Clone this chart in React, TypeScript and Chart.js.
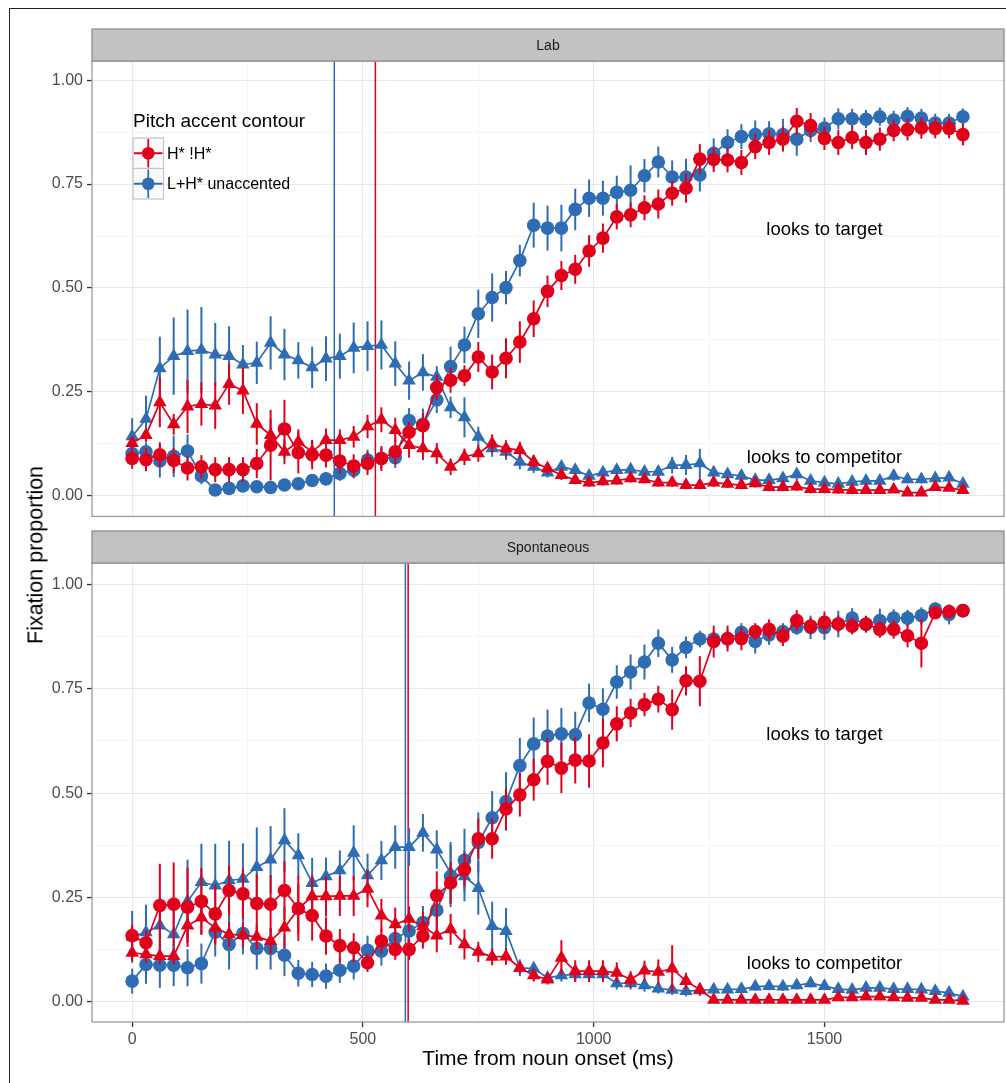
import React, { useEffect, useRef } from 'react';
import { Chart, registerables } from 'chart.js';
Chart.register(...registerables);

// ---------- data ----------
const times = [0,30,60,90,120,150,180,210,240,270,300,330,360,390,420,450,480,510,540,570,600,630,660,690,720,750,780,810,840,870,900,930,960,990,1020,1050,1080,1110,1140,1170,1200,1230,1260,1290,1320,1350,1380,1410,1440,1470,1500,1530,1560,1590,1620,1650,1680,1710,1740,1770,1800];

const xTicks = [0,250,500,750,1000,1250,1500,1750];
const yTicks = [0,0.125,0.25,0.375,0.5,0.625,0.75,0.875,1];

const panelNames = ['Lab', 'Spontaneous'];
const seriesNames = ['H* !H*', 'L+H* unaccented'];
const legendTitle = 'Pitch accent contour';
const targetLabel = 'looks to target';
const competitorLabel = 'looks to competitor';

// Lab panel
const labRedTarget = [0.090,0.087,0.099,0.085,0.067,0.070,0.063,0.063,0.063,0.078,0.122,0.161,0.104,0.099,0.098,0.084,0.072,0.078,0.090,0.106,
 0.153,0.169,0.261,0.278,0.289,0.334,0.298,0.331,0.370,0.426,0.492,0.530,0.545,0.589,0.620,0.671,0.676,0.693,0.702,0.728,
 0.740,0.810,0.809,0.808,0.802,0.840,0.850,0.858,0.901,0.891,0.860,0.850,0.862,0.850,0.858,0.879,0.881,0.885,0.884,0.884,0.869];
const labRedTargetErr = [0.025,0.028,0.03,0.03,0.03,0.028,0.03,0.03,0.03,0.035,0.085,0.07,0.05,0.035,0.03,0.03,0.028,0.028,0.03,0.03,
 0.025,0.03,0.03,0.03,0.025,0.036,0.042,0.048,0.05,0.044,0.038,0.035,0.035,0.038,0.035,0.03,0.03,0.03,0.035,0.03,
 0.035,0.036,0.03,0.03,0.03,0.03,0.03,0.03,0.032,0.03,0.028,0.03,0.028,0.03,0.028,0.026,0.026,0.026,0.024,0.024,0.026];
const labBlueTarget = [0.102,0.106,0.084,0.095,0.108,0.048,0.014,0.018,0.024,0.022,0.020,0.026,0.029,0.037,0.041,0.054,0.062,0.086,0.090,0.092,
 0.181,0.172,0.231,0.311,0.363,0.438,0.477,0.501,0.566,0.651,0.644,0.644,0.689,0.716,0.716,0.730,0.735,0.770,0.803,0.767,
 0.767,0.772,0.824,0.850,0.864,0.869,0.871,0.869,0.858,0.879,0.885,0.907,0.907,0.906,0.912,0.904,0.913,0.909,0.897,0.897,0.912];
const labBlueTargetErr = [0.02,0.022,0.04,0.05,0.04,0.02,0.012,0.012,0.012,0.012,0.012,0.012,0.014,0.015,0.016,0.018,0.02,0.025,0.025,0.025,
 0.03,0.038,0.032,0.048,0.044,0.058,0.058,0.04,0.038,0.054,0.054,0.056,0.05,0.045,0.042,0.04,0.06,0.04,0.037,0.04,
 0.044,0.04,0.036,0.032,0.03,0.034,0.03,0.038,0.04,0.028,0.025,0.025,0.024,0.022,0.022,0.022,0.022,0.022,0.022,0.022,0.02];
const labRedComp = [0.127,0.146,0.225,0.172,0.215,0.221,0.217,0.269,0.253,0.173,0.146,0.106,0.130,0.106,0.134,0.134,0.142,0.167,0.183,0.158,
 0.122,0.114,0.102,0.070,0.094,0.102,0.126,0.114,0.110,0.082,0.066,0.050,0.038,0.032,0.035,0.037,0.042,0.040,0.032,0.032,
 0.026,0.026,0.032,0.029,0.026,0.030,0.021,0.021,0.022,0.016,0.016,0.015,0.014,0.014,0.014,0.015,0.008,0.008,0.021,0.019,0.014];
const labRedCompErr = [0.012,0.015,0.06,0.025,0.064,0.052,0.056,0.05,0.056,0.05,0.04,0.03,0.03,0.028,0.028,0.026,0.026,0.028,0.03,0.03,
 0.03,0.028,0.025,0.02,0.02,0.02,0.022,0.02,0.02,0.016,0.014,0.012,0.01,0.01,0.01,0.01,0.01,0.01,0.01,0.01,
 0.01,0.01,0.01,0.01,0.01,0.01,0.01,0.01,0.01,0.01,0.01,0.01,0.01,0.008,0.008,0.008,0.008,0.008,0.008,0.008,0.008];
const labBlueComp = [0.143,0.185,0.307,0.336,0.348,0.351,0.340,0.336,0.316,0.320,0.368,0.340,0.326,0.309,0.330,0.336,0.356,0.360,0.363,0.318,
 0.277,0.297,0.286,0.213,0.189,0.142,0.114,0.106,0.082,0.070,0.056,0.070,0.062,0.048,0.056,0.062,0.063,0.058,0.058,0.074,
 0.074,0.078,0.056,0.052,0.048,0.038,0.038,0.042,0.052,0.036,0.032,0.029,0.034,0.036,0.036,0.048,0.040,0.040,0.042,0.044,0.029];
const labBlueCompErr = [0.044,0.056,0.076,0.093,0.1,0.103,0.076,0.072,0.047,0.051,0.064,0.062,0.044,0.05,0.054,0.054,0.061,0.06,0.059,0.054,
 0.046,0.044,0.026,0.026,0.048,0.024,0.02,0.02,0.018,0.015,0.012,0.012,0.012,0.012,0.012,0.012,0.012,0.012,0.012,0.02,
 0.024,0.035,0.015,0.012,0.012,0.012,0.012,0.012,0.014,0.012,0.01,0.01,0.01,0.01,0.01,0.012,0.01,0.01,0.01,0.01,0.01];

// Spontaneous panel
const spRedTarget = [0.159,0.142,0.231,0.234,0.227,0.241,0.211,0.267,0.259,0.236,0.234,0.267,0.224,0.207,0.158,0.135,0.130,0.094,0.146,0.126,
 0.126,0.158,0.255,0.285,0.317,0.391,0.391,0.462,0.496,0.532,0.576,0.560,0.579,0.577,0.620,0.666,0.692,0.712,0.725,0.700,
 0.769,0.768,0.863,0.870,0.870,0.887,0.892,0.876,0.913,0.900,0.909,0.905,0.900,0.905,0.892,0.892,0.877,0.859,0.932,0.935,0.937];
const spRedTargetErr = [0.026,0.03,0.1,0.1,0.095,0.08,0.07,0.06,0.06,0.07,0.07,0.07,0.078,0.06,0.045,0.04,0.035,0.022,0.03,0.025,
 0.025,0.03,0.058,0.05,0.04,0.048,0.048,0.05,0.052,0.05,0.056,0.06,0.056,0.064,0.058,0.042,0.034,0.028,0.032,0.048,
 0.035,0.06,0.038,0.031,0.028,0.02,0.024,0.024,0.025,0.02,0.026,0.02,0.02,0.02,0.02,0.022,0.028,0.058,0.015,0.015,0.015];
const spBlueTarget = [0.050,0.090,0.088,0.088,0.082,0.092,0.167,0.138,0.164,0.128,0.128,0.112,0.069,0.066,0.062,0.076,0.086,0.124,0.122,0.152,
 0.170,0.190,0.220,0.301,0.339,0.382,0.441,0.480,0.566,0.618,0.637,0.642,0.640,0.716,0.701,0.766,0.790,0.814,0.859,0.819,
 0.849,0.869,0.869,0.869,0.885,0.863,0.879,0.887,0.897,0.897,0.896,0.905,0.919,0.904,0.913,0.919,0.919,0.925,0.941,0.928,0.937];
const spBlueTargetErr = [0.03,0.046,0.054,0.05,0.044,0.048,0.058,0.06,0.05,0.05,0.05,0.05,0.032,0.03,0.03,0.03,0.032,0.035,0.035,0.035,
 0.035,0.04,0.05,0.074,0.076,0.072,0.064,0.07,0.066,0.063,0.063,0.062,0.055,0.046,0.05,0.04,0.042,0.042,0.033,0.031,
 0.026,0.02,0.018,0.022,0.022,0.029,0.024,0.02,0.018,0.028,0.029,0.032,0.024,0.02,0.029,0.021,0.02,0.02,0.016,0.024,0.016];
const spRedComp = [0.118,0.114,0.110,0.110,0.183,0.202,0.178,0.162,0.160,0.156,0.146,0.178,0.223,0.253,0.253,0.254,0.254,0.271,0.207,0.186,
 0.199,0.181,0.159,0.174,0.138,0.120,0.108,0.109,0.082,0.064,0.054,0.106,0.074,0.074,0.074,0.070,0.054,0.075,0.072,0.080,
 0.050,0.030,0.005,0.005,0.005,0.005,0.005,0.005,0.005,0.005,0.005,0.011,0.011,0.013,0.013,0.011,0.010,0.010,0.005,0.005,0.003];
const spRedCompErr = [0.02,0.02,0.02,0.02,0.04,0.04,0.04,0.03,0.03,0.03,0.03,0.05,0.06,0.05,0.048,0.048,0.048,0.044,0.04,0.04,
 0.03,0.035,0.04,0.037,0.036,0.024,0.02,0.02,0.015,0.015,0.012,0.042,0.026,0.026,0.026,0.025,0.02,0.024,0.03,0.056,
 0.02,0.015,0.005,0.005,0.005,0.005,0.005,0.005,0.005,0.005,0.005,0.006,0.006,0.006,0.006,0.006,0.006,0.006,0.005,0.005,0.005];
const spBlueComp = [0.156,0.167,0.183,0.162,0.241,0.287,0.279,0.291,0.295,0.323,0.341,0.387,0.351,0.285,0.301,0.315,0.357,0.303,0.339,0.371,
 0.371,0.405,0.365,0.309,0.301,0.273,0.182,0.170,0.082,0.080,0.058,0.064,0.066,0.066,0.066,0.045,0.045,0.040,0.032,0.029,
 0.026,0.028,0.030,0.030,0.031,0.037,0.038,0.037,0.040,0.045,0.038,0.031,0.029,0.034,0.034,0.031,0.031,0.030,0.026,0.022,0.013];
const spBlueCompErr = [0.062,0.066,0.07,0.07,0.1,0.092,0.1,0.095,0.085,0.095,0.08,0.077,0.053,0.06,0.045,0.048,0.066,0.052,0.047,0.052,
 0.046,0.045,0.046,0.074,0.06,0.064,0.058,0.055,0.02,0.015,0.012,0.015,0.015,0.015,0.015,0.015,0.015,0.015,0.012,0.012,
 0.012,0.01,0.01,0.01,0.01,0.01,0.01,0.01,0.01,0.01,0.01,0.01,0.01,0.01,0.01,0.01,0.01,0.01,0.01,0.008,0.008];

// vertical reference lines (ms)
const labLines = [438, 527];
const spLines = [592, 598];

// annotation positions (data coords)
const annotX = 1500;
const targetY = 0.640;
const competitorY = 0.092;

// ---------- styling ----------
const RED = '#e0001b';
const BLUE = '#2e6cb4';
const FONT = "'Liberation Sans', Arial, Helvetica, sans-serif";

const isMajorX = (v: number) => Math.abs(v % 500) < 1e-6;
const isMajorY = (v: number) => Math.abs(v * 4 - Math.round(v * 4)) < 1e-6;

function mkSet(label: string, vals: number[], errs: number[], color: string, style: string, order: number) {
  return {
    label,
    data: times.map((t, i) => ({ x: t, y: vals[i] })),
    errs,
    borderColor: color,
    backgroundColor: color,
    pointBackgroundColor: color,
    pointBorderColor: color,
    pointBorderWidth: 0,
    pointRadius: style === 'circle' ? 6.8 : 7.8,
    pointHoverRadius: style === 'circle' ? 6.8 : 7.8,
    pointStyle: style,
    borderWidth: 1.7,
    tension: 0,
    fill: false,
    order,
  };
}

function makePlugin(cfg: { strip: string; vlines: number[]; legend: boolean }) {
  return {
    id: 'panelDeco',
    beforeDatasetsDraw(chart: any) {
      const { ctx, chartArea: a, scales } = chart;
      ctx.save();
      ctx.lineWidth = 1.5;
      const cols = [BLUE, RED];
      cfg.vlines.forEach((t, i) => {
        const px = scales.x.getPixelForValue(t);
        ctx.strokeStyle = cols[i];
        ctx.beginPath();
        ctx.moveTo(px, a.top);
        ctx.lineTo(px, a.bottom);
        ctx.stroke();
      });
      ctx.restore();
    },
    beforeDatasetDraw(chart: any, args: any) {
      const ds = chart.data.datasets[args.index];
      const { ctx, scales } = chart;
      ctx.save();
      ctx.strokeStyle = ds.borderColor;
      ctx.lineWidth = 2;
      ds.data.forEach((p: any, i: number) => {
        const e = ds.errs[i];
        const px = scales.x.getPixelForValue(p.x);
        ctx.beginPath();
        ctx.moveTo(px, scales.y.getPixelForValue(p.y - e));
        ctx.lineTo(px, scales.y.getPixelForValue(p.y + e));
        ctx.stroke();
      });
      ctx.restore();
    },
    afterDraw(chart: any) {
      const { ctx, chartArea: a, scales } = chart;
      ctx.save();
      // panel border
      ctx.strokeStyle = '#9a9a9a';
      ctx.lineWidth = 1.3;
      ctx.strokeRect(a.left, a.top, a.right - a.left, a.bottom - a.top);
      // strip
      const sh = 32;
      ctx.fillStyle = '#c2c2c2';
      ctx.fillRect(a.left, a.top - sh, a.right - a.left, sh);
      ctx.strokeStyle = '#8e8e8e';
      ctx.strokeRect(a.left, a.top - sh, a.right - a.left, sh);
      ctx.fillStyle = '#1a1a1a';
      ctx.font = `14px ${FONT}`;
      ctx.textAlign = 'center';
      ctx.textBaseline = 'middle';
      ctx.fillText(cfg.strip, (a.left + a.right) / 2, a.top - sh / 2 + 1);
      // annotations
      ctx.font = `18.5px ${FONT}`;
      ctx.fillStyle = '#000';
      const ax = scales.x.getPixelForValue(annotX);
      ctx.fillText(targetLabel, ax, scales.y.getPixelForValue(targetY));
      ctx.fillText(competitorLabel, ax, scales.y.getPixelForValue(competitorY));
      // legend
      if (cfg.legend) {
        ctx.textAlign = 'left';
        ctx.font = `19px ${FONT}`;
        ctx.fillStyle = '#000';
        ctx.fillText(legendTitle, 133, 122);
        const cols = [RED, BLUE];
        seriesNames.forEach((name, i) => {
          const bx = 133, by = 138 + i * 30.5, bs = 30.5;
          ctx.fillStyle = '#fbfbfb';
          ctx.fillRect(bx, by, bs, bs);
          ctx.strokeStyle = '#c4c4c4';
          ctx.lineWidth = 1.2;
          ctx.strokeRect(bx, by, bs, bs);
          ctx.strokeStyle = cols[i];
          ctx.lineWidth = 1.8;
          ctx.beginPath();
          ctx.moveTo(bx + 1, by + bs / 2);
          ctx.lineTo(bx + bs - 1, by + bs / 2);
          ctx.moveTo(bx + bs / 2, by + 1);
          ctx.lineTo(bx + bs / 2, by + bs - 1);
          ctx.stroke();
          ctx.fillStyle = cols[i];
          ctx.beginPath();
          ctx.arc(bx + bs / 2, by + bs / 2, 6.3, 0, Math.PI * 2);
          ctx.fill();
          ctx.fillStyle = '#000';
          ctx.font = `16px ${FONT}`;
          ctx.fillText(name, 167, by + bs / 2 + 1);
        });
      }
      ctx.restore();
    },
  };
}

function makeConfig(opts: {
  strip: string; vlines: number[]; legend: boolean; bottom: boolean;
  yMin: number; yMax: number; padTop: number; xHeight: number;
  sets: any[];
}) {
  return {
    type: 'line' as const,
    data: { datasets: opts.sets },
    plugins: [makePlugin({ strip: opts.strip, vlines: opts.vlines, legend: opts.legend })],
    options: {
      responsive: false,
      animation: false,
      devicePixelRatio: 1,
      layout: { autoPadding: false, padding: { left: 0, right: 2, top: opts.padTop, bottom: 0 } },
      plugins: { legend: { display: false }, tooltip: { enabled: false }, title: { display: false } },
      events: [],
      scales: {
        x: {
          type: 'linear',
          min: -87,
          max: 1889,
          afterBuildTicks: (s: any) => { s.ticks = xTicks.map((v) => ({ value: v })); },
          afterFit: (s: any) => { s.height = opts.xHeight; },
          border: { display: false },
          grid: {
            color: (c: any) => (isMajorX(c.tick.value) ? '#e8e8e8' : '#f3f3f3'),
            lineWidth: (c: any) => (isMajorX(c.tick.value) ? 1.1 : 0.8),
            drawTicks: opts.bottom,
            tickLength: 5,
            tickWidth: 1.3,
            tickColor: (c: any) => (isMajorX(c.tick.value) ? '#333' : 'rgba(0,0,0,0)'),
          },
          ticks: {
            display: opts.bottom,
            autoSkip: false,
            maxRotation: 0,
            padding: 3,
            color: '#4d4d4d',
            font: { family: FONT, size: 16 },
            callback: (v: any) => (isMajorX(Number(v)) ? String(v) : ''),
          },
        },
        y: {
          type: 'linear',
          min: opts.yMin,
          max: opts.yMax,
          afterBuildTicks: (s: any) => { s.ticks = yTicks.map((v) => ({ value: v })); },
          afterFit: (s: any) => { s.width = 92; },
          border: { display: false },
          grid: {
            color: (c: any) => (isMajorY(c.tick.value) ? '#e8e8e8' : '#f3f3f3'),
            lineWidth: (c: any) => (isMajorY(c.tick.value) ? 1.1 : 0.8),
            drawTicks: true,
            tickLength: 5,
            tickWidth: 1.3,
            tickColor: (c: any) => (isMajorY(c.tick.value) ? '#333' : 'rgba(0,0,0,0)'),
          },
          ticks: {
            autoSkip: false,
            padding: 4,
            color: '#4d4d4d',
            font: { family: FONT, size: 16 },
            callback: (v: any) => (isMajorY(Number(v)) ? Number(v).toFixed(2) : ''),
          },
        },
      },
    },
  };
}

function Panel(props: { cfg: any; top: number; height: number }) {
  const ref = useRef<HTMLCanvasElement>(null);
  useEffect(() => {
    if (!ref.current) return;
    const chart = new Chart(ref.current, props.cfg);
    return () => chart.destroy();
  }, []);
  return (
    <canvas
      ref={ref}
      width={1006}
      height={props.height}
      style={{ position: 'absolute', left: 0, top: props.top, width: 1006, height: props.height }}
    />
  );
}

export default function App() {
  const labCfg = makeConfig({
    strip: panelNames[0], vlines: labLines, legend: true, bottom: false,
    yMin: -0.0494, yMax: 1.046, padTop: 61, xHeight: 10,
    sets: [
      mkSet(seriesNames[1] + ' target', labBlueTarget, labBlueTargetErr, BLUE, 'circle', 1),
      mkSet(seriesNames[1] + ' competitor', labBlueComp, labBlueCompErr, BLUE, 'triangle', 1),
      mkSet(seriesNames[0] + ' target', labRedTarget, labRedTargetErr, RED, 'circle', 0),
      mkSet(seriesNames[0] + ' competitor', labRedComp, labRedCompErr, RED, 'triangle', 0),
    ],
  });
  const spCfg = makeConfig({
    strip: panelNames[1], vlines: spLines, legend: false, bottom: true,
    yMin: -0.0478, yMax: 1.051, padTop: 33, xHeight: 61,
    sets: [
      mkSet(seriesNames[1] + ' target', spBlueTarget, spBlueTargetErr, BLUE, 'circle', 1),
      mkSet(seriesNames[1] + ' competitor', spBlueComp, spBlueCompErr, BLUE, 'triangle', 1),
      mkSet(seriesNames[0] + ' target', spRedTarget, spRedTargetErr, RED, 'circle', 0),
      mkSet(seriesNames[0] + ' competitor', spRedComp, spRedCompErr, RED, 'triangle', 0),
    ],
  });
  return (
    <div style={{ position: 'absolute', left: 0, top: 0, width: 1006, height: 1083, background: '#fff', overflow: 'hidden', fontFamily: FONT }}>
      <div style={{ position: 'absolute', left: 9, top: 8, width: 1100, height: 1200, borderLeft: '1.5px solid #222', borderTop: '1.5px solid #222' }} />
      <Panel cfg={labCfg} top={0} height={530} />
      <Panel cfg={spCfg} top={530} height={553} />
      <div style={{ position: 'absolute', left: 36, top: 555, transform: 'translate(-50%, -50%) rotate(-90deg)', fontSize: 21.5, whiteSpace: 'nowrap', color: '#000' }}>
        Fixation proportion
      </div>
      <div style={{ position: 'absolute', left: 548, top: 1058, transform: 'translate(-50%, -50%)', fontSize: 21, whiteSpace: 'nowrap', color: '#000' }}>
        Time from noun onset (ms)
      </div>
    </div>
  );
}
